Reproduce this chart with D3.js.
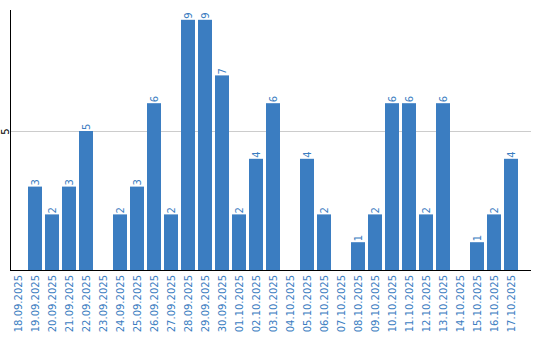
<!DOCTYPE html>
<html>
<head>
<meta charset="utf-8">
<script src="https://cdn.jsdelivr.net/npm/d3@7"></script>
<style>
  body { margin: 0; background: #fff; }
  svg text { font-family: "DejaVu Sans", Verdana, sans-serif; font-size: 10px; }
</style>
</head>
<body>
<div id="chart"></div>
<script>
const dates = ["18.09.2025","19.09.2025","20.09.2025","21.09.2025","22.09.2025","23.09.2025",
  "24.09.2025","25.09.2025","26.09.2025","27.09.2025","28.09.2025","29.09.2025","30.09.2025",
  "01.10.2025","02.10.2025","03.10.2025","04.10.2025","05.10.2025","06.10.2025","07.10.2025",
  "08.10.2025","09.10.2025","10.10.2025","11.10.2025","12.10.2025","13.10.2025","14.10.2025",
  "15.10.2025","16.10.2025","17.10.2025"];
const counts = [0,3,2,3,5,0,2,3,6,2,9,9,7,2,4,6,0,4,2,0,1,2,6,6,2,6,0,1,2,4];
const yTicks = [5];

const width = 540, height = 340;
const plotLeft = 11, plotRight = 531, plotTop = 10, plotBottom = 270;
const blue = "#3b7dc1";

const svg = d3.select("#chart").append("svg")
  .attr("width", width)
  .attr("height", height);

const x = d3.scaleBand()
  .domain(dates)
  .range([plotLeft, plotLeft + dates.length * 17])
  .padding(0);

const y = d3.scaleLinear()
  .domain([0, 5])
  .range([plotBottom, 131]);

// gridline
svg.append("g")
  .selectAll("line")
  .data(yTicks)
  .enter()
  .append("line")
  .attr("x1", plotLeft)
  .attr("x2", plotRight)
  .attr("y1", d => Math.round(y(d)) + 0.5)
  .attr("y2", d => Math.round(y(d)) + 0.5)
  .attr("stroke", "#cccccc");

const barW = x.bandwidth() * 14 / 17;

svg.append("g")
  .selectAll("rect")
  .data(counts)
  .enter()
  .append("rect")
  .attr("x", (d, i) => x(dates[i]))
  .attr("y", d => y(d))
  .attr("width", barW)
  .attr("height", d => plotBottom - y(d))
  .attr("fill", blue);

// value labels
svg.append("g")
  .selectAll("text")
  .data(counts.map((v, i) => ({ v, d: dates[i] })).filter(o => o.v > 0))
  .enter()
  .append("text")
  .attr("transform", o => "translate(" + (x(o.d) + barW / 2) + "," + (y(o.v) - 1) + ") rotate(-90)")
  .attr("dy", "0.35em")
  .attr("fill", blue)
  .text(o => o.v);

// x axis
const xAxis = svg.append("g")
  .attr("transform", "translate(0," + plotBottom + ")")
  .call(d3.axisBottom(x).tickSize(0).tickSizeOuter(0));
xAxis.select(".domain").remove();
xAxis.selectAll(".tick").attr("transform", d => "translate(" + (x(d) + barW / 2) + ",0)");
xAxis.selectAll("text")
  .attr("y", 0)
  .attr("dy", "0.35em")
  .attr("transform", "translate(0,5) rotate(-90)")
  .attr("text-anchor", "end")
  .attr("fill", blue)
  .style("font-size", "10px")
  .style("font-family", "DejaVu Sans, Verdana, sans-serif");

svg.append("line")
  .attr("x1", plotLeft - 1).attr("x2", plotRight)
  .attr("y1", plotBottom + 0.5).attr("y2", plotBottom + 0.5)
  .attr("stroke", "#000");

// y axis
const yAxis = svg.append("g")
  .attr("transform", "translate(" + (plotLeft - 0.5) + ",0)")
  .call(d3.axisLeft(y).tickValues(yTicks).tickFormat(d3.format("d")).tickSize(0));
yAxis.select(".domain").remove();
yAxis.selectAll("text")
  .attr("x", 0)
  .attr("dy", "0.35em")
  .attr("transform", "translate(-5,0) rotate(-90)")
  .attr("text-anchor", "middle")
  .attr("fill", "#000")
  .style("font-size", "10px")
  .style("font-family", "DejaVu Sans, Verdana, sans-serif");

svg.append("line")
  .attr("x1", plotLeft - 0.5).attr("x2", plotLeft - 0.5)
  .attr("y1", plotTop).attr("y2", plotBottom + 1)
  .attr("stroke", "#000");
</script>
</body>
</html>
